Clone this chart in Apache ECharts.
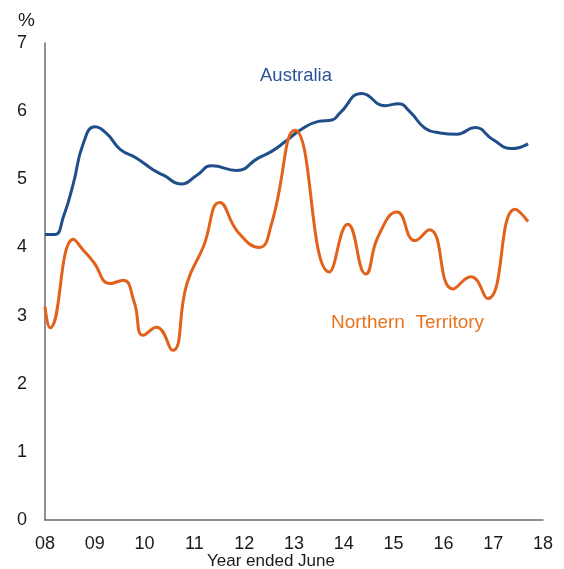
<!DOCTYPE html>
<html>
<head>
<meta charset="utf-8">
<script src="https://cdn.jsdelivr.net/npm/echarts@6/dist/echarts.min.js"></script>
<style>html,body{margin:0;padding:0;background:#fff}#c{width:564px;height:569px}</style>
</head>
<body>
<div id="c"></div>
<script>
// Decimal year positions and values (per cent)
var ausYears = [2008.00,2008.20,2008.37,2008.57,2008.77,2009.00,2009.24,2009.51,2009.84,2010.17,2010.38,2010.74,2011.05,2011.35,2011.85,2012.28,2012.55,2012.82,2013.12,2013.49,2013.76,2013.92,2014.36,2014.83,2015.09,2015.33,2015.63,2015.93,2016.27,2016.63,2017.00,2017.37,2017.70];
var ausValues = [4.19,4.19,4.45,4.94,5.53,5.77,5.67,5.44,5.31,5.14,5.06,4.93,5.06,5.20,5.13,5.31,5.41,5.55,5.72,5.85,5.87,5.97,6.26,6.08,6.11,5.99,5.75,5.68,5.66,5.76,5.58,5.45,5.52];

var ntYears = [2008.00,2008.10,2008.57,2008.77,2008.97,2009.31,2009.57,2009.79,2009.97,2010.24,2010.56,2010.85,2011.18,2011.51,2011.88,2012.30,2012.55,2013.02,2013.71,2014.08,2014.44,2014.69,2015.07,2015.43,2015.72,2016.19,2016.55,2016.89,2017.44,2017.70];
var ntValues = [3.13,2.82,4.12,3.96,3.79,3.47,3.52,3.20,2.71,2.83,2.49,3.47,4.01,4.66,4.22,4.00,4.35,5.72,3.64,4.34,3.61,4.16,4.52,4.10,4.26,3.39,3.57,3.25,4.56,4.38];

var yTicks = [0,1,2,3,4,5,6,7];
var xTickLabels = ['08','09','10','11','12','13','14','15','16','17','18'];

function pairs(xs, ys){ return xs.map(function(x,i){ return [x, ys[i]]; }); }

var chart = echarts.init(document.getElementById('c'), null, {renderer:'canvas'});
var font = 'Liberation Sans, Arial, sans-serif';
chart.setOption({
  animation: false,
  backgroundColor: '#fff',
  grid: {left: 45, right: 21, top: 43, bottom: 49, containLabel: false},
  xAxis: {
    type: 'value', min: 2008, max: 2018, interval: 1,
    axisLine: {show: true, lineStyle: {color: '#6b6b6b', width: 1.5}},
    axisTick: {show: false},
    splitLine: {show: false},
    axisLabel: {
      margin: 15, color: '#1a1a1a', fontSize: 18, fontFamily: font,
      formatter: function(v){ return xTickLabels[Math.round(v - 2008)]; }
    }
  },
  yAxis: {
    type: 'value', min: yTicks[0], max: yTicks[yTicks.length-1], interval: 1,
    axisLine: {show: true, lineStyle: {color: '#6b6b6b', width: 1.5}},
    axisTick: {show: false},
    splitLine: {show: false},
    axisLabel: {margin: 18, color: '#1a1a1a', fontSize: 18, fontFamily: font}
  },
  graphic: [
    {type:'text', left: 18, top: 11, style:{text:'%', fontSize:19, fontFamily:font, fill:'#1a1a1a'}},
    {type:'text', left: 207, top: 553, style:{text:'Year ended June', fontSize:17, fontFamily:font, fill:'#1a1a1a'}},
    {type:'text', left: 260, top: 66, style:{text:'Australia', fontSize:18.5, fontFamily:font, fill:'#2a5593'}},
    {type:'text', left: 331, top: 313, style:{text:'Northern  Territory', fontSize:19, fontFamily:font, fill:'#e8731f'}}
  ],
  series: [
    {type:'line', name:'Australia', data: pairs(ausYears, ausValues), smooth: 0.5, showSymbol:false,
     lineStyle:{color:'#1f4e8a', width:3}},
    {type:'line', name:'Northern Territory', data: pairs(ntYears, ntValues), smooth: 0.5, showSymbol:false,
     lineStyle:{color:'#e2621c', width:3}}
  ]
});
</script>
</body>
</html>
